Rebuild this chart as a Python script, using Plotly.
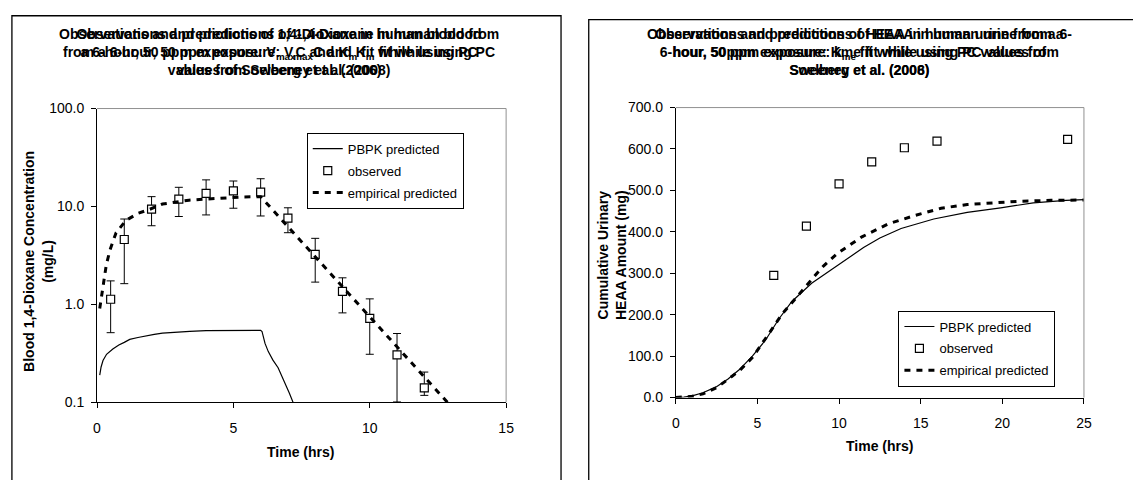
import plotly.graph_objects as go

# ---------------- data: left panel (blood) ----------------
t_obs_blood = [0.5, 1, 2, 3, 4, 5, 6, 7, 8, 9, 10, 11, 12]
obs_blood = [1.13, 4.6, 9.4, 11.9, 13.6, 14.4, 14.0, 7.6, 3.24, 1.36, 0.72, 0.305, 0.141]
obs_blood_hi = [1.74, 7.45, 12.6, 15.7, 18.7, 18.2, 19.2, 9.7, 4.73, 1.87, 1.14, 0.505, 0.204]
obs_blood_lo = [0.515, 1.63, 6.36, 7.9, 8.2, 9.6, 8.0, 5.4, 1.69, 0.82, 0.31, 0.101, 0.118]

t_pbpk_blood = [0.1, 0.15, 0.22, 0.35, 0.58, 0.8, 1.0, 1.2, 1.5, 1.8, 2.1, 2.4, 2.8, 3.4,
                4.0, 5.0, 6.0, 6.05, 6.16, 6.28, 6.45, 6.64, 6.85, 7.05, 7.19, 7.35]
pbpk_blood = [0.19, 0.23, 0.268, 0.31, 0.35, 0.385, 0.41, 0.44, 0.46, 0.48, 0.495, 0.51, 0.52, 0.53,
              0.54, 0.545, 0.545, 0.53, 0.40, 0.33, 0.27, 0.226, 0.17, 0.125, 0.1, 0.08]

t_emp_blood = [0.1, 0.18, 0.34, 0.48, 0.7, 1.06, 1.5, 1.91, 2.4, 3.0, 3.37, 4.0, 4.34, 5.0, 5.31,
               6.0, 7, 8, 9, 10, 11, 12, 13]
emp_blood = [0.91, 1.33, 2.53, 3.63, 5.4, 7.2, 8.5, 9.3, 10.6, 11.2, 11.6, 11.9, 12.1, 12.4, 12.5,
             12.6, 6.2, 3.1, 1.53, 0.75, 0.37, 0.18, 0.09]

# ---------------- data: right panel (urine) ----------------
t_obs_urine = [6, 8, 10, 12, 14, 16, 24]
obs_urine = [295, 414, 516, 569, 603, 619, 623]

t_pbpk_urine = [0, 0.5, 1, 1.66, 2.47, 3.2, 3.88, 4.69, 5.5, 6.3, 7.11, 8.32, 9.5, 10, 10.5,
                11.5, 12.5, 13.8, 15.8, 17.85, 19.9, 21.9, 23.9, 25]
pbpk_urine = [0, 1, 4, 11.7, 25.7, 45, 67, 100, 139, 189, 232, 276, 308, 322, 336,
              362, 385, 408, 431, 447, 458, 470, 476, 478]

t_emp_urine = [0, 1, 1.66, 2.5, 3.2, 3.9, 4.7, 5.5, 5.9, 6.5, 7.2, 7.85, 8.45, 9.06, 9.9, 11.4,
               13.0, 14.6, 16.25, 17.85, 19.5, 21.1, 23, 25]
emp_urine = [0, 3, 9, 24, 44, 65, 97, 145, 166, 201, 232, 263, 291, 318, 348, 388,
             419, 439, 457, 466, 470, 474, 476, 477]

left_title_a = ("Observations and predictions of 1,4-Dioxane in human blood from<br>"
                "a 6-hour, 50 ppm exposure: V<sub>max</sub>C and K<sub>m</sub> fit while using PC<br>"
                "values from Sweeney et al. (2008)")
left_title_b = ("Observations and predictions of 1,4-Dioxane in human blood<br>"
                "from a 6-hour, 50 ppm exposure: V<sub>max</sub>C and K<sub>m</sub> fit while using PC<br>"
                "values of Soelberg et al. (2006)")
right_title_a = ("Observations and predictions of HEAA in human urine from a<br>"
                 "6-hour, 50 ppm exposure: k<sub>me</sub> fit while using PC values from<br>"
                 "Sweeney et al. (2008)")
right_title_b = ("Observations and predictions of HEAA in human urine from a 6-<br>"
                 "hour, 50ppm exposure: Kme fit while using PC values of<br>"
                 "Soelberg et al. (2006)")

W, H = 1133, 480
FONT = "Liberation Sans, Arial, sans-serif"


def px(x):
    return x / W


def py(y):
    return 1 - y / H


fig = go.Figure()

dash_style = "6px,6px"

# left traces
fig.add_trace(go.Scatter(x=t_pbpk_blood, y=pbpk_blood, mode="lines", name="PBPK predicted",
                         line=dict(color="black", width=1.2), xaxis="x", yaxis="y",
                         legend="legend", legendgroup="a"))
fig.add_trace(go.Scatter(x=t_obs_blood, y=obs_blood, mode="markers", name="observed",
                         marker=dict(symbol="square", size=8, color="white",
                                     line=dict(color="black", width=1.2)),
                         error_y=dict(type="data", symmetric=False,
                                      array=[h - o for h, o in zip(obs_blood_hi, obs_blood)],
                                      arrayminus=[o - l for o, l in zip(obs_blood, obs_blood_lo)],
                                      color="black", thickness=1, width=4),
                         xaxis="x", yaxis="y", legend="legend", legendgroup="b"))
fig.add_trace(go.Scatter(x=t_emp_blood, y=emp_blood, mode="lines", name="empirical predicted",
                         line=dict(color="black", width=3, dash=dash_style),
                         xaxis="x", yaxis="y", legend="legend", legendgroup="c"))

# right traces
fig.add_trace(go.Scatter(x=t_pbpk_urine, y=pbpk_urine, mode="lines", name="PBPK predicted",
                         line=dict(color="black", width=1.2), xaxis="x2", yaxis="y2",
                         legend="legend2", legendgroup="a2"))
fig.add_trace(go.Scatter(x=t_obs_urine, y=obs_urine, mode="markers", name="observed",
                         marker=dict(symbol="square", size=8, color="white",
                                     line=dict(color="black", width=1.2)),
                         xaxis="x2", yaxis="y2", legend="legend2", legendgroup="b2"))
fig.add_trace(go.Scatter(x=t_emp_urine, y=emp_urine, mode="lines", name="empirical predicted",
                         line=dict(color="black", width=3, dash=dash_style),
                         xaxis="x2", yaxis="y2", legend="legend2", legendgroup="c2"))

axis_common = dict(showgrid=False, zeroline=False, showline=True, linecolor="black", linewidth=1,
                   ticks="outside", ticklen=5, tickcolor="black",
                   tickfont=dict(family=FONT, size=14, color="black"))

fig.update_layout(
    width=W, height=H, margin=dict(l=0, r=0, t=0, b=0),
    paper_bgcolor="white", plot_bgcolor="white",
    font=dict(family=FONT, color="black"),
    xaxis=dict(domain=[px(94), px(507.5)], range=[0, 15], tickvals=[0, 5, 10, 15],
               ticklabelstandoff=8, anchor="y", **axis_common),
    yaxis=dict(domain=[py(408), py(104)], type="log", range=[-1, 2],
               tickvals=[0.1, 1, 10, 100], ticktext=["0.1", "1.0", "10.0", "100.0"],
               ticklabelstandoff=4, anchor="x", **axis_common),
    xaxis2=dict(domain=[px(679), px(1091.5)], range=[0, 25], tickvals=[0, 5, 10, 15, 20, 25],
                ticklabelstandoff=8, anchor="y2", **axis_common),
    yaxis2=dict(domain=[py(403), py(103)], range=[0, 700],
                tickvals=[0, 100, 200, 300, 400, 500, 600, 700],
                ticktext=["0.0", "100.0", "200.0", "300.0", "400.0", "500.0", "600.0", "700.0"],
                ticklabelstandoff=4, anchor="x2", **axis_common),
    legend=dict(x=px(306), y=py(129), xanchor="left", yanchor="top",
                bordercolor="black", borderwidth=1, bgcolor="white",
                font=dict(family=FONT, size=13, color="black"),
                traceorder="grouped", tracegroupgap=2),
    legend2=dict(x=px(904), y=py(313), xanchor="left", yanchor="top",
                 bordercolor="black", borderwidth=1, bgcolor="white",
                 font=dict(family=FONT, size=13, color="black"),
                 traceorder="grouped", tracegroupgap=2),
)

shapes = []
# panel frames
shapes.append(dict(type="rect", xref="paper", yref="paper", x0=px(8), x1=px(563), y0=py(495), y1=py(8),
                   line=dict(color="black", width=1.3), fillcolor="rgba(0,0,0,0)", layer="below"))
shapes.append(dict(type="rect", xref="paper", yref="paper", x0=px(591), x1=px(1145), y0=py(495), y1=py(12),
                   line=dict(color="black", width=1.3), fillcolor="rgba(0,0,0,0)", layer="below"))
# gray top/right plot-area borders
for xa, ya in (("x", "y"), ("x2", "y2")):
    shapes.append(dict(type="line", xref=f"{xa} domain", yref=f"{ya} domain", x0=0, x1=1, y0=1, y1=1,
                       line=dict(color="#909090", width=1)))
    shapes.append(dict(type="line", xref=f"{xa} domain", yref=f"{ya} domain", x0=1, x1=1, y0=0, y1=1,
                       line=dict(color="#909090", width=1)))
fig.update_layout(shapes=shapes)

ann = []
title_font = dict(family=FONT, size=14, color="black")
for txt in (left_title_a, left_title_b):
    ann.append(dict(text="<b>" + txt + "</b>", xref="paper", yref="paper", x=px(278), y=py(45),
                    xanchor="center", yanchor="middle", showarrow=False, font=title_font, align="center"))
for txt in (right_title_a, right_title_b):
    ann.append(dict(text="<b>" + txt + "</b>", xref="paper", yref="paper", x=px(865), y=py(45),
                    xanchor="center", yanchor="middle", showarrow=False, font=title_font, align="center"))
# axis titles
ann.append(dict(text="<b>Time (hrs)</b>", xref="paper", yref="paper", x=px(300), y=py(459),
                xanchor="center", yanchor="middle", showarrow=False, font=title_font))
ann.append(dict(text="<b>Time (hrs)</b>", xref="paper", yref="paper", x=px(885), y=py(453),
                xanchor="center", yanchor="middle", showarrow=False, font=title_font))
ann.append(dict(text="<b>Blood 1,4-Dioxane Concentration<br>(mg/L)</b>", xref="paper", yref="paper",
                x=px(35), y=py(262), xanchor="center", yanchor="middle", textangle=-90,
                showarrow=False, font=title_font))
ann.append(dict(text="<b>Cumulative Urinary<br>HEAA Amount (mg)</b>", xref="paper", yref="paper",
                x=px(614), y=py(255), xanchor="center", yanchor="middle", textangle=-90,
                showarrow=False, font=title_font))
fig.update_layout(annotations=ann)

fig.write_html("out.html", config={"displayModeBar": False},
               post_script="document.body.style.margin='0px';document.body.style.overflow='hidden';")
